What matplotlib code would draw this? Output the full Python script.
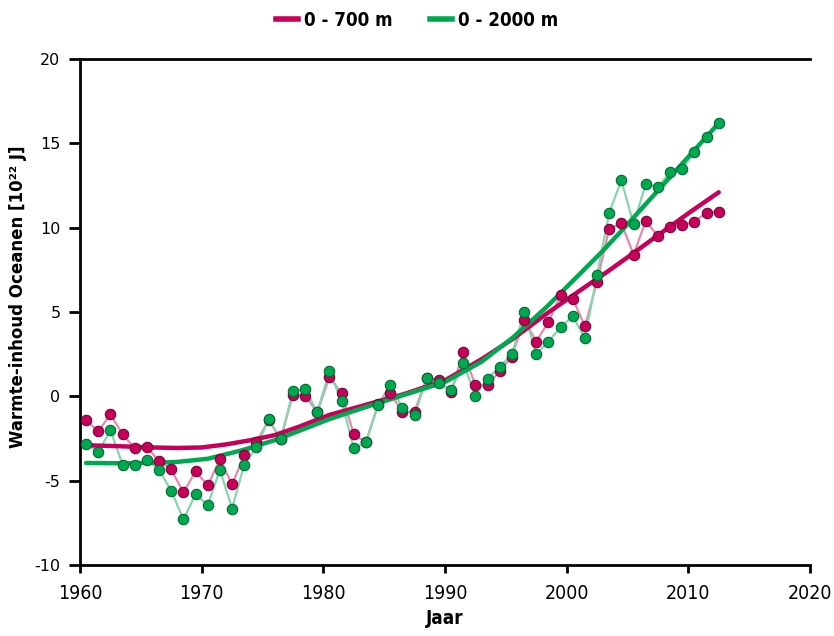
import matplotlib
matplotlib.use("Agg")
import matplotlib.pyplot as plt
from matplotlib.lines import Line2D

plt.rcParams["axes.unicode_minus"] = False

years = [1960.5 + i for i in range(53)]

ohc_700 = [-1.42, -2.07, -1.07, -2.25, -3.08, -3.0, -3.85, -4.33, -5.7, -4.45,
           -5.28, -3.73, -5.22, -3.5, -2.73, -1.42, -2.5, 0.1, 0.05, -0.95,
           1.13, 0.2, -2.25, -2.73, -0.47, 0.2, -0.95, -0.9, 1.1, 0.95,
           0.25, 2.65, 0.65, 0.7, 1.5, 2.35, 4.55, 3.25, 4.4, 6.0,
           5.8, 4.15, 6.8, 9.95, 10.25, 8.4, 10.4, 9.5, 10.05, 10.15,
           10.35, 10.9, 10.95]

ohc_2000 = [-2.8, -3.3, -2.0, -4.05, -4.05, -3.75, -4.35, -5.6, -7.3, -5.8,
            -6.45, -4.35, -6.65, -4.05, -3.0, -1.37, -2.55, 0.3, 0.45, -0.95,
            1.5, -0.25, -3.08, -2.73, -0.53, 0.7, -0.7, -1.13, 1.1, 0.8,
            0.35, 2.0, 0.05, 1.05, 1.75, 2.5, 5.0, 2.5, 3.25, 4.1,
            4.75, 3.45, 7.2, 10.9, 12.8, 10.2, 12.6, 12.4, 13.3, 13.45,
            14.5, 15.4, 16.2]

smooth_700_x = [1960.5, 1963, 1966, 1968, 1970, 1972, 1974, 1976, 1978, 1980.5,
                1983, 1986.7, 1990, 1993, 1995.6, 1998.35, 2001.1, 2003.5,
                2005.5, 2007.5, 2010, 2012.5]
smooth_700_y = [-2.9, -2.95, -3.03, -3.06, -3.03, -2.85, -2.6, -2.3, -1.8, -1.1,
                -0.6, 0.15, 0.95, 2.2, 3.42, 4.9, 6.28, 7.47,
                8.5, 9.55, 10.85, 12.1]

smooth_2000_x = [1960.5, 1964, 1967.8, 1970.5, 1973.3, 1976, 1978, 1980.5,
                 1983, 1986.7, 1990, 1993, 1995.6, 1998.35, 2001.1, 2003,
                 2005, 2007.5, 2010, 2012.5]
smooth_2000_y = [-3.95, -3.97, -3.9, -3.7, -3.2, -2.6, -2.05, -1.35,
                 -0.75, 0.1, 0.85, 2.05, 3.5, 5.3, 7.27, 8.65,
                 10.2, 12.2, 14.2, 16.2]

red = "#C8005A"
red_light = "#E888B2"
red_edge = "#7A0035"
green = "#00A850"
green_light = "#86D6AC"
green_edge = "#006A30"

fig = plt.figure(figsize=(8.34, 6.36), dpi=100)
ax = fig.add_axes([0.0959, 0.1116, 0.8753, 0.7956])

ax.plot(years, ohc_700, color=red_light, lw=1.6, zorder=2)
ax.plot(years, ohc_2000, color=green_light, lw=1.6, zorder=2)
ax.plot(smooth_700_x, smooth_700_y, color=red, lw=3.2, zorder=3,
        solid_capstyle="round")
ax.plot(smooth_2000_x, smooth_2000_y, color=green, lw=3.2, zorder=4,
        solid_capstyle="round")
ax.plot(years, ohc_700, ls="none", marker="o", ms=7.5, mfc=red,
        mec=red_edge, mew=0.8, zorder=5)
ax.plot(years, ohc_2000, ls="none", marker="o", ms=7.5, mfc=green,
        mec=green_edge, mew=0.8, zorder=6)

ax.set_xlim(1960, 2020)
ax.set_ylim(-10, 20)
ax.set_xticks(range(1960, 2021, 10))
ax.set_yticks(range(-10, 21, 5))

for s in ["left", "bottom", "top"]:
    ax.spines[s].set_linewidth(2)
    ax.spines[s].set_color("black")
ax.spines["right"].set_visible(False)

ax.tick_params(axis="y", direction="out", length=8, width=2, labelsize=11.5, pad=6)
ax.tick_params(axis="x", direction="out", length=6, width=2, pad=8)
for lab in ax.get_xticklabels():
    lab.set_family("DejaVu Sans")
    lab.set_stretch("condensed")
    lab.set_fontsize(14)

ax.set_xlabel("Jaar", fontsize=13.5, fontweight="bold", fontstretch="condensed",
              labelpad=4)
ax.set_ylabel("Warmte-inhoud Oceanen [10²² J]", fontsize=12, fontweight="bold",
              fontstretch="semi-condensed")
ax.yaxis.set_label_coords(-0.073, 0.53)

handles = [Line2D([], [], color=red, lw=4), Line2D([], [], color=green, lw=4)]
fig.legend(handles, ["0 - 700 m", "0 - 2000 m"], loc="center",
           bbox_to_anchor=(0.5, 0.968), ncol=2, frameon=False,
           prop={"family": "DejaVu Sans", "size": 13.5, "weight": "bold",
                 "stretch": "condensed"},
           handlelength=1.2, handletextpad=0.3, columnspacing=2.0)

fig.savefig("out.png", dpi=100)
